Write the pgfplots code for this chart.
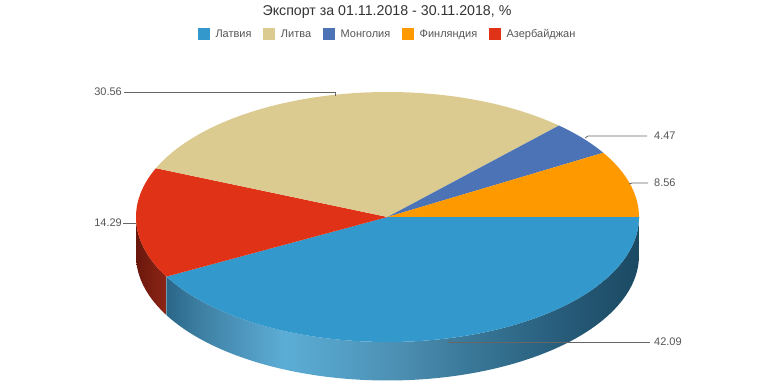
\documentclass[border=0pt]{standalone}
\usepackage{fontspec}
\setmainfont{Liberation Sans}
\usepackage{pgfplots}
\pgfplotsset{compat=1.18}
\definecolor{cLat}{HTML}{3398CC}
\definecolor{cLit}{HTML}{DCCB91}
\definecolor{cMon}{HTML}{4B73B5}
\definecolor{cFin}{HTML}{FF9900}
\definecolor{cAze}{HTML}{E03216}
\definecolor{txt}{HTML}{555555}
\definecolor{ttl}{HTML}{333333}
\definecolor{lead}{HTML}{666666}
\definecolor{sA}{HTML}{2A6688}
\definecolor{sB}{HTML}{3D7FA2}
\definecolor{sC}{HTML}{4F98BF}
\definecolor{sD}{HTML}{5CADD6}
\definecolor{sE}{HTML}{55A2C9}
\definecolor{sF}{HTML}{4C8FB2}
\definecolor{sG}{HTML}{3F7E9F}
\definecolor{sH}{HTML}{336F8F}
\definecolor{sI}{HTML}{285D7B}
\definecolor{sJ}{HTML}{1E4E68}
\definecolor{sK}{HTML}{1B4A63}
\definecolor{rA}{HTML}{6A170C}
\definecolor{rB}{HTML}{8D2617}
\pgfdeclarehorizontalshading{latside}{100bp}{%
color(0bp)=(sA);color(25bp)=(sA);
color(28.5bp)=(sB);color(33.3bp)=(sC);color(37.5bp)=(sD);
color(42.2bp)=(sE);color(49.6bp)=(sF);color(54.9bp)=(sG);
color(60.2bp)=(sH);color(66.5bp)=(sI);color(72.9bp)=(sJ);
color(75bp)=(sK);color(100bp)=(sK)}
% data (percent)
\def\vLat{42.09}
\def\vLit{30.56}
\def\vMon{4.47}
\def\vFin{8.56}
\def\vAze{14.29}
\pgfmathsetmacro{\aA}{0}
\pgfmathsetmacro{\aB}{\aA-\vLat*3.6}
\pgfmathsetmacro{\aC}{\aB-\vAze*3.6}
\pgfmathsetmacro{\aD}{\aC-\vLit*3.6}
\pgfmathsetmacro{\aE}{\aD-\vMon*3.6}
\pgfmathsetmacro{\aF}{\aE-\vFin*3.6}
\begin{document}
\begin{tikzpicture}
\begin{axis}[
  scale only axis, width=774pt, height=387pt,
  xmin=0, xmax=774, ymin=0, ymax=387, y dir=reverse,
  hide axis, clip=false,
  declare function={
    th(\t,\a,\b)=(\t<=1)*(\a+(\b-\a)*\t)+(\t>1)*(\b-(\b-\a)*(\t-1));
  },
  legend columns=5,
  legend style={at={(axis cs:386.5,34)}, anchor=center, draw=none, fill=none,
    inner sep=0pt, font=\fontsize{11}{13}\selectfont, text=txt,
    nodes={inner sep=0pt},
    /tikz/every odd column/.append style={column sep=6.5pt},
    /tikz/every even column/.append style={column sep=11.5pt}},
  legend image code/.code={\fill[#1] (0pt,-5.5pt) rectangle (11pt,5.5pt);},
]
\path (axis cs:0,0) rectangle (axis cs:774,387);
% side faces
\addplot[forget plot, draw=none, left color=rA, right color=rB,
  domain=0:2, samples=201, variable=\t]
  ({387.5+251.5*cos(th(\t,-180,\aB))},{217-125*sin(th(\t,-180,\aB))+38.5*(\t>1)}) -- cycle;
\addplot[forget plot, draw=none, shading=latside,
  domain=0:2, samples=301, variable=\t]
  ({387.5+251.5*cos(th(\t,\aB,\aA))},{217-125*sin(th(\t,\aB,\aA))+38.5*(\t>1)}) -- cycle;
% top faces
\addplot[forget plot, fill=cLat, draw=none, domain=\aB:\aA, samples=120, variable=\t]
  ({387.5+251.5*cos(\t)},{217-125*sin(\t)}) -- (axis cs:387.5,217) -- cycle;
\addplot[forget plot, fill=cAze, draw=none, domain=\aC:\aB, samples=60, variable=\t]
  ({387.5+251.5*cos(\t)},{217-125*sin(\t)}) -- (axis cs:387.5,217) -- cycle;
\addplot[forget plot, fill=cLit, draw=none, domain=\aD:\aC, samples=100, variable=\t]
  ({387.5+251.5*cos(\t)},{217-125*sin(\t)}) -- (axis cs:387.5,217) -- cycle;
\addplot[forget plot, fill=cMon, draw=none, domain=\aE:\aD, samples=30, variable=\t]
  ({387.5+251.5*cos(\t)},{217-125*sin(\t)}) -- (axis cs:387.5,217) -- cycle;
\addplot[forget plot, fill=cFin, draw=none, domain=\aF:\aE, samples=40, variable=\t]
  ({387.5+251.5*cos(\t)},{217-125*sin(\t)}) -- (axis cs:387.5,217) -- cycle;
% legend
\addlegendimage{cLat}\addlegendentry{Латвия}
\addlegendimage{cLit}\addlegendentry{Литва}
\addlegendimage{cMon}\addlegendentry{Монголия}
\addlegendimage{cFin}\addlegendentry{Финляндия}
\addlegendimage{cAze}\addlegendentry{Азербайджан}
% leader lines
\draw[lead, line width=0.8pt] (axis cs:124,92) -- (axis cs:335,92) -- (axis cs:335,96);
\draw[lead, line width=0.8pt] (axis cs:585,138) -- (axis cs:588,136) -- (axis cs:647,136);
\draw[lead, line width=0.8pt] (axis cs:629,184) -- (axis cs:632,183) -- (axis cs:648,183);
\draw[lead, line width=0.8pt] (axis cs:123,223) -- (axis cs:136,223);
\draw[lead, line width=0.8pt] (axis cs:449,340) -- (axis cs:449,342) -- (axis cs:650,342);
% value labels
\node[anchor=east, text=txt, font=\fontsize{11}{13}\selectfont, inner sep=0pt] at (axis cs:122,92) {30.56};
\node[anchor=east, text=txt, font=\fontsize{11}{13}\selectfont, inner sep=0pt] at (axis cs:122,223) {14.29};
\node[anchor=west, text=txt, font=\fontsize{11}{13}\selectfont, inner sep=0pt] at (axis cs:654,136) {4.47};
\node[anchor=west, text=txt, font=\fontsize{11}{13}\selectfont, inner sep=0pt] at (axis cs:654,183) {8.56};
\node[anchor=west, text=txt, font=\fontsize{11}{13}\selectfont, inner sep=0pt] at (axis cs:654,342) {42.09};
% title
\node[text=ttl, font=\fontsize{14.2}{16}\selectfont, inner sep=0pt] at (axis cs:387,12) {Экспорт за 01.11.2018 - 30.11.2018, \%};
\end{axis}
\end{tikzpicture}
\end{document}
